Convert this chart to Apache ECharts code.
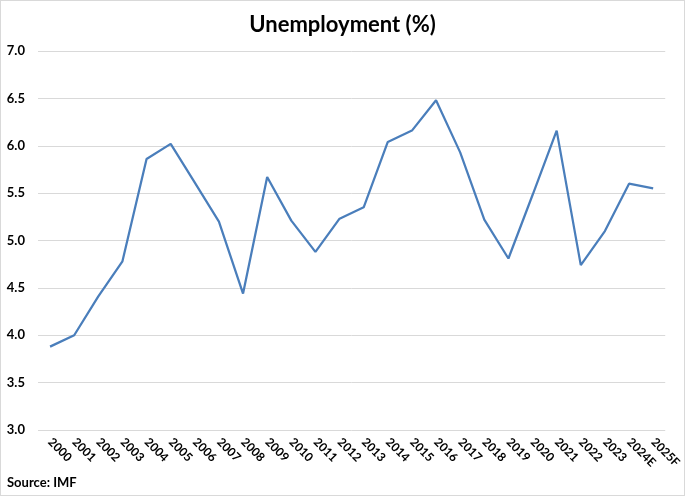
<!DOCTYPE html>
<html>
<head>
<meta charset="utf-8">
<script src="https://cdn.jsdelivr.net/npm/echarts@6/dist/echarts.min.js"></script>
<style>
  html, body { margin: 0; padding: 0; background: #fff; }
  #chart { width: 685px; height: 496px; box-sizing: border-box; border: 1px solid #d9d9d9; }
</style>
</head>
<body>
<div id="chart"></div>
<script>
// years on the category axis
const years = ['2000', '2001', '2002', '2003', '2004', '2005', '2006', '2007', '2008', '2009',
  '2010', '2011', '2012', '2013', '2014', '2015', '2016', '2017', '2018', '2019',
  '2020', '2021', '2022', '2023', '2024E', '2025F'];

// unemployment rate, %
const unemployment = [3.88, 4.00, 4.41, 4.78, 5.86, 6.02, 5.61, 5.20, 4.44, 5.67,
  5.21, 4.88, 5.23, 5.35, 6.04, 6.16, 6.48, 5.93, 5.22, 4.81,
  5.48, 6.16, 4.74, 5.10, 5.60, 5.55];

const yMin = 3, yMax = 7, yStep = 0.5;

const chart = echarts.init(document.getElementById('chart'));
const font = 'Lato, "Open Sans", sans-serif';

chart.setOption({
  animation: false,
  title: {
    text: 'Unemployment (%)',
    left: 'center',
    top: 8,
    textStyle: { fontFamily: font, fontSize: 22, fontWeight: 'bold', color: '#000' }
  },
  graphic: [{
    type: 'text',
    left: 6,
    top: 475,
    style: { text: 'Source: IMF', font: 'bold 13px ' + font, fill: '#000' }
  }],
  grid: { left: 37, right: 18, top: 50, bottom: 65 },
  xAxis: {
    type: 'category',
    data: years,
    boundaryGap: true,
    axisLine: { show: false },
    axisTick: { show: false },
    axisLabel: {
      rotate: -45,
      interval: 0,
      margin: 10,
      fontFamily: font,
      fontSize: 12,
      fontWeight: 'bold',
      color: '#000'
    }
  },
  yAxis: {
    type: 'value',
    min: yMin,
    max: yMax,
    interval: yStep,
    axisLine: { show: false },
    axisTick: { show: false },
    splitLine: { lineStyle: { color: '#d9d9d9', width: 1 } },
    axisLabel: {
      formatter: v => v.toFixed(1),
      margin: 13,
      fontFamily: font,
      fontSize: 13,
      fontWeight: 'bold',
      color: '#000'
    }
  },
  series: [{
    type: 'line',
    data: unemployment,
    symbol: 'none',
    lineStyle: { color: '#4a7ebb', width: 2.25 }
  }]
});
</script>
</body>
</html>
